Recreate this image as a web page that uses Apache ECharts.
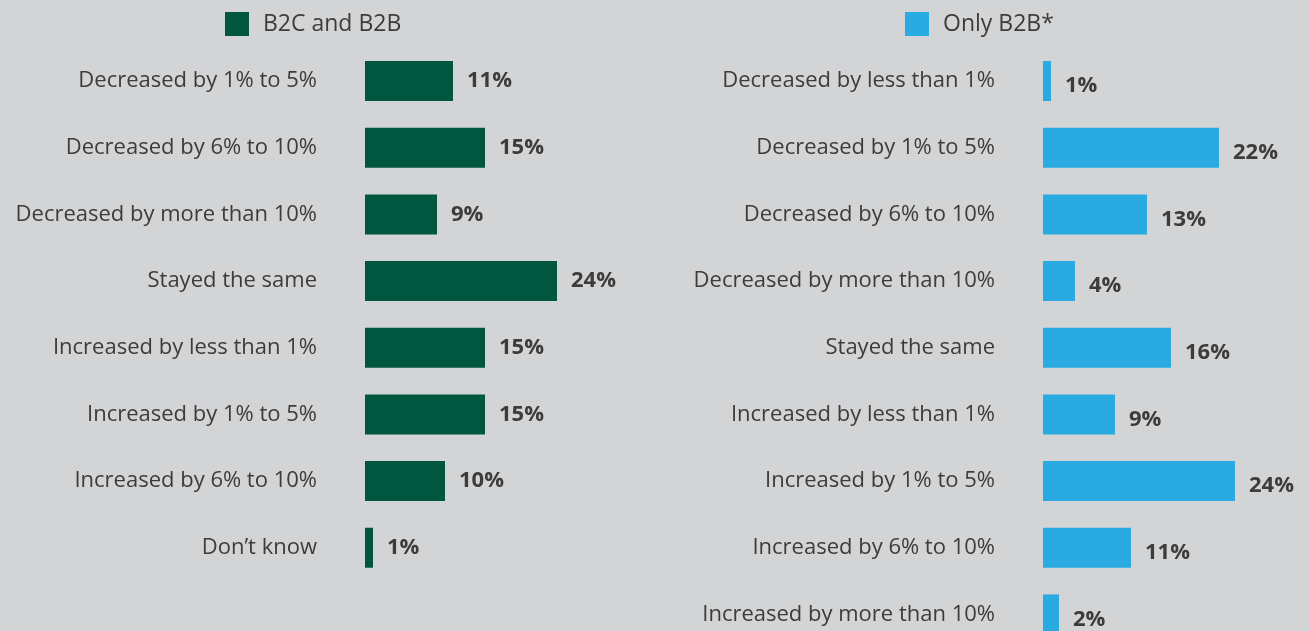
<!DOCTYPE html>
<html>
<head>
<meta charset="utf-8">
<script src="https://cdn.jsdelivr.net/npm/echarts@6/dist/echarts.min.js"></script>
<style>
  html, body { margin: 0; padding: 0; background: #d3d4d6; }
  #chart { width: 1310px; height: 631px; }
</style>
</head>
<body>
<div id="chart"></div>
<script>
// Change in spending, by business type
const seriesNames = ['B2C and B2B', 'Only B2B*'];

const categoriesMixed = [
  'Decreased by 1% to 5%',
  'Decreased by 6% to 10%',
  'Decreased by more than 10%',
  'Stayed the same',
  'Increased by less than 1%',
  'Increased by 1% to 5%',
  'Increased by 6% to 10%',
  'Don\u2019t know'
];
const valuesMixed = [11, 15, 9, 24, 15, 15, 10, 1];

const categoriesB2B = [
  'Decreased by less than 1%',
  'Decreased by 1% to 5%',
  'Decreased by 6% to 10%',
  'Decreased by more than 10%',
  'Stayed the same',
  'Increased by less than 1%',
  'Increased by 1% to 5%',
  'Increased by 6% to 10%',
  'Increased by more than 10%'
];
const valuesB2B = [1, 22, 13, 4, 16, 9, 24, 11, 2];

const FONT = 'Open Sans';
const TEXT = '#3c3c3c';
const GREEN = '#00573f';
const BLUE = '#29abe2';
const ROW = 66.67;
const TOP = 47.7;

const chart = echarts.init(document.getElementById('chart'), null, { renderer: 'canvas' });

function yAxisFor(gridIndex, cats) {
  return {
    type: 'category', gridIndex: gridIndex, data: cats, inverse: true,
    axisLine: { show: false }, axisTick: { show: false }, splitLine: { show: false },
    axisLabel: { margin: 48, color: TEXT, fontFamily: FONT, fontSize: 22, padding: [4, 0, 0, 0] }
  };
}
function xAxisFor(gridIndex) {
  return { type: 'value', gridIndex: gridIndex, min: 0, max: 30, show: false };
}
function legendFor(name, left) {
  return {
    data: [name], left: left, top: 12, padding: 0, icon: 'rect',
    itemWidth: 24, itemHeight: 24, selectedMode: false,
    textStyle: { color: TEXT, fontFamily: FONT, fontSize: 23, padding: [0, 0, 0, 9] }
  };
}
function labelFor(dy) {
  return {
    show: true, position: 'right', distance: 14, offset: [0, dy],
    formatter: '{c}%', color: TEXT, fontFamily: FONT, fontSize: 22, fontWeight: 'bold'
  };
}

chart.setOption({
  backgroundColor: '#d3d4d6',
  animation: false,
  legend: [legendFor(seriesNames[0], 225), legendFor(seriesNames[1], 905)],
  grid: [
    { left: 365, top: TOP, width: 240, height: ROW * categoriesMixed.length, outerBoundsMode: 'none' },
    { left: 1043, top: TOP, width: 240, height: ROW * categoriesB2B.length, outerBoundsMode: 'none' }
  ],
  xAxis: [xAxisFor(0), xAxisFor(1)],
  yAxis: [yAxisFor(0, categoriesMixed), yAxisFor(1, categoriesB2B)],
  series: [
    {
      name: seriesNames[0], type: 'bar', xAxisIndex: 0, yAxisIndex: 0,
      data: valuesMixed, barWidth: 40, itemStyle: { color: GREEN },
      label: labelFor(0)
    },
    {
      name: seriesNames[1], type: 'bar', xAxisIndex: 1, yAxisIndex: 1,
      data: valuesB2B, barWidth: 40, itemStyle: { color: BLUE },
      label: labelFor(5)
    }
  ]
});
</script>
</body>
</html>
